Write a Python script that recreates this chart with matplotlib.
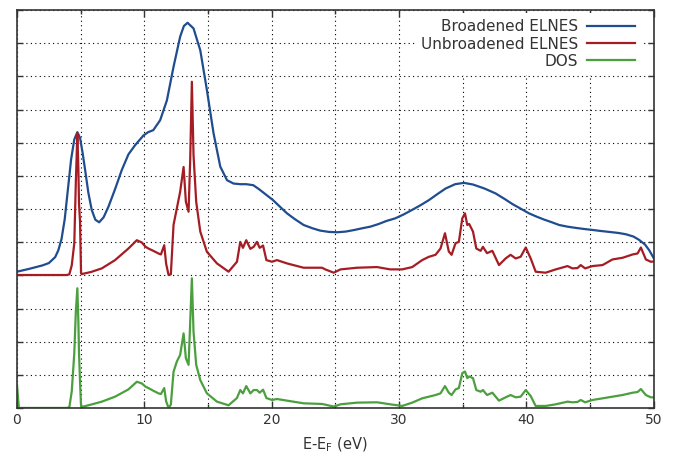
import numpy as np
import matplotlib
matplotlib.use("Agg")
import matplotlib.pyplot as plt
from matplotlib.ticker import MultipleLocator, NullFormatter

# broadened ELNES (smooth curve)
e_broad = [0.0, 1.0, 2.0, 2.5, 3.0, 3.25, 3.5, 3.75, 4.0, 4.25, 4.5, 4.74, 4.95, 5.15,
           5.35, 5.6, 5.87, 6.15, 6.45, 6.8, 7.18, 7.7, 8.23, 8.75, 9.28, 9.93, 10.3,
           10.7, 11.24, 11.77, 12.29, 12.81, 13.1, 13.39, 13.86, 14.39, 14.91, 15.43,
           15.96, 16.49, 17.0, 17.53, 18.0, 18.55, 19.0, 19.5, 20.1, 20.7, 21.2, 21.8,
           22.5, 23.2, 23.8, 24.5, 25.13, 25.8, 26.5, 27.1, 27.75, 28.4, 29.0, 29.7,
           30.37, 31.0, 31.7, 32.34, 33.0, 33.65, 34.4, 35.09, 35.8, 36.7, 37.58, 38.3,
           38.9, 39.6, 40.2, 40.8, 41.4, 42.0, 42.56, 43.2, 43.9, 44.5, 45.18, 45.8,
           46.5, 47.2, 47.8, 48.4, 48.84, 49.3, 49.63, 50.0]
broad = [4.11, 4.2, 4.3, 4.37, 4.55, 4.76, 5.1, 5.7, 6.6, 7.5, 8.1, 8.32, 8.15, 7.7,
         7.18, 6.5, 5.97, 5.68, 5.60, 5.75, 6.07, 6.6, 7.18, 7.65, 7.93, 8.22, 8.32,
         8.38, 8.68, 9.28, 10.29, 11.2, 11.52, 11.62, 11.45, 10.79, 9.59, 8.29,
         7.28, 6.87, 6.77, 6.75, 6.75, 6.72, 6.6, 6.45, 6.27, 6.05, 5.87, 5.7,
         5.52, 5.42, 5.35, 5.31, 5.30, 5.32, 5.37, 5.42, 5.47, 5.55, 5.64, 5.72,
         5.84, 5.97, 6.12, 6.27, 6.45, 6.62, 6.75, 6.79, 6.74, 6.62, 6.47, 6.3,
         6.15, 6.0, 5.87, 5.77, 5.68, 5.6, 5.52, 5.47, 5.43, 5.4, 5.37, 5.34,
         5.31, 5.28, 5.24, 5.17, 5.07, 4.93, 4.76, 4.51]

# unbroadened ELNES and DOS on a common energy grid
e_raw = [0.0, 0.15, 1.0, 2.0, 3.0, 3.9, 4.11, 4.3, 4.5, 4.62, 4.74, 4.82, 4.87, 4.95, 5.03,
         5.1, 5.8, 6.66, 7.7, 8.75, 9.41, 9.8, 10.1, 10.32, 10.7, 11.11, 11.3, 11.56, 11.71,
         11.9, 12.08, 12.29, 12.55, 12.81, 13.08, 13.26, 13.47, 13.6, 13.73, 13.86,
         14.07, 14.39, 14.91, 15.7, 16.61, 17.27, 17.53, 17.74, 18.0, 18.32, 18.58,
         18.84, 19.05, 19.32, 19.58, 20.02, 20.41, 21.2, 22.5, 23.95, 24.2, 24.87,
         25.4, 26.7, 28.27, 29.3, 30.24, 31.03, 31.81, 32.34, 32.86, 33.25, 33.6,
         33.9, 34.12, 34.43, 34.69, 34.96, 35.17, 35.35, 35.5, 35.8, 36.06, 36.4,
         36.58, 36.9, 37.32, 37.84, 38.36, 38.75, 39.15, 39.54, 39.94, 40.33, 40.72,
         41.5, 42.3, 43.22, 43.6, 44.0, 44.26, 44.6, 45.18, 45.97, 46.75, 47.54,
         48.33, 48.72, 48.98, 49.37, 49.76, 50.0]
unbroad = [4.01, 4.01, 4.01, 4.01, 4.01, 4.01, 4.03, 4.3, 4.97, 6.8, 8.29, 7.2, 6.17, 5.62, 4.06,
           4.04, 4.1, 4.21, 4.46, 4.81, 5.06, 4.99, 4.86, 4.81, 4.74, 4.66, 4.63, 4.91, 4.35,
           4.01, 4.03, 5.52, 6.02, 6.52, 7.27, 6.22, 5.92, 7.5, 9.84, 7.63,
           6.22, 5.32, 4.71, 4.36, 4.11, 4.41, 5.01, 4.83, 5.06, 4.8, 4.86,
           5.01, 4.83, 4.9, 4.46, 4.41, 4.46, 4.36, 4.23, 4.23, 4.18, 4.08,
           4.18, 4.23, 4.25, 4.18, 4.18, 4.25, 4.46, 4.56, 4.62, 4.81, 5.27,
           4.72, 4.62, 4.97, 5.01, 5.72, 5.87, 5.52, 5.55, 5.32, 4.81, 4.74,
           4.86, 4.67, 4.74, 4.31, 4.51, 4.62, 4.51, 4.56, 4.84, 4.51, 4.11,
           4.08, 4.18, 4.28, 4.21, 4.22, 4.31, 4.21, 4.28, 4.31, 4.48, 4.53,
           4.63, 4.66, 4.84, 4.48, 4.41, 4.42]
dos = [0.70, 0.0, 0.0, 0.0, 0.0, 0.0, 0.02, 0.5, 1.65, 2.9, 3.61, 2.6, 1.65, 0.8, 0.05,
       0.03, 0.1, 0.19, 0.34, 0.56, 0.79, 0.74, 0.64, 0.6, 0.52, 0.44, 0.42, 0.6, 0.2,
       0.0, 0.1, 1.09, 1.4, 1.6, 2.25, 1.5, 1.3, 2.6, 3.91, 2.3,
       1.3, 0.84, 0.44, 0.19, 0.08, 0.3, 0.54, 0.44, 0.66, 0.44, 0.54,
       0.54, 0.46, 0.55, 0.3, 0.24, 0.27, 0.22, 0.14, 0.12, 0.1, 0.04,
       0.11, 0.16, 0.17, 0.11, 0.06, 0.16, 0.29, 0.34, 0.39, 0.44, 0.66,
       0.46, 0.39, 0.56, 0.6, 1.05, 1.1, 0.9, 0.95, 0.9, 0.54, 0.49,
       0.54, 0.39, 0.46, 0.22, 0.32, 0.39, 0.32, 0.34, 0.54, 0.36, 0.06,
       0.06, 0.11, 0.19, 0.17, 0.18, 0.24, 0.17, 0.24, 0.29, 0.34, 0.39,
       0.46, 0.48, 0.57, 0.39, 0.32, 0.32]

labels = ["Broadened ELNES", "Unbroadened ELNES", "DOS"]
colors = ["#1f4d8f", "#a51d24", "#4c9f3f"]


def main():
    plt.rcParams["font.family"] = "DejaVu Sans"
    fig = plt.figure(figsize=(6.79, 4.62), dpi=100)
    ax = fig.add_axes([0.025, 0.117, 0.938, 0.861])

    ax.plot(e_broad, broad, color=colors[0], lw=1.6, label=labels[0])
    ax.plot(e_raw, unbroad, color=colors[1], lw=1.6, label=labels[1])
    ax.plot(e_raw, dos, color=colors[2], lw=1.6, label=labels[2])

    ax.set_xlim(0, 50)
    ax.set_ylim(0, 12)
    ax.xaxis.set_major_locator(MultipleLocator(10))
    ax.xaxis.set_minor_locator(MultipleLocator(5))
    ax.yaxis.set_major_locator(MultipleLocator(1))
    ax.yaxis.set_major_formatter(NullFormatter())
    ax.tick_params(which="both", direction="in", top=True, right=True,
                   colors="#333333", labelsize=10, width=1)
    ax.tick_params(which="major", length=5)
    ax.tick_params(which="minor", length=3)
    ax.tick_params(axis="y", length=4)
    for s in ax.spines.values():
        s.set_color("#333333")
        s.set_linewidth(1.2)

    ax.grid(which="both", axis="x", linestyle=(0, (1, 3)), color="black", lw=0.8)
    ax.grid(which="major", axis="y", linestyle=(0, (1, 3)), color="black", lw=0.8)

    ax.set_xlabel("E-E$_\\mathrm{F}$ (eV)", fontsize=10.5, color="#333333", labelpad=6)

    # white box behind the key, no border (gridlines hidden there)
    leg = ax.legend(loc="upper right", bbox_to_anchor=(0.9796, 0.9925),
                    markerfirst=False, frameon=True, facecolor="white",
                    edgecolor="none", framealpha=1, fancybox=False,
                    fontsize=11, handlelength=3.1, handletextpad=0.6,
                    labelspacing=0.15, borderaxespad=0)
    for t in leg.get_texts():
        t.set_color("#333333")

    fig.savefig("out.png", dpi=100)


if __name__ == "__main__":
    main()
